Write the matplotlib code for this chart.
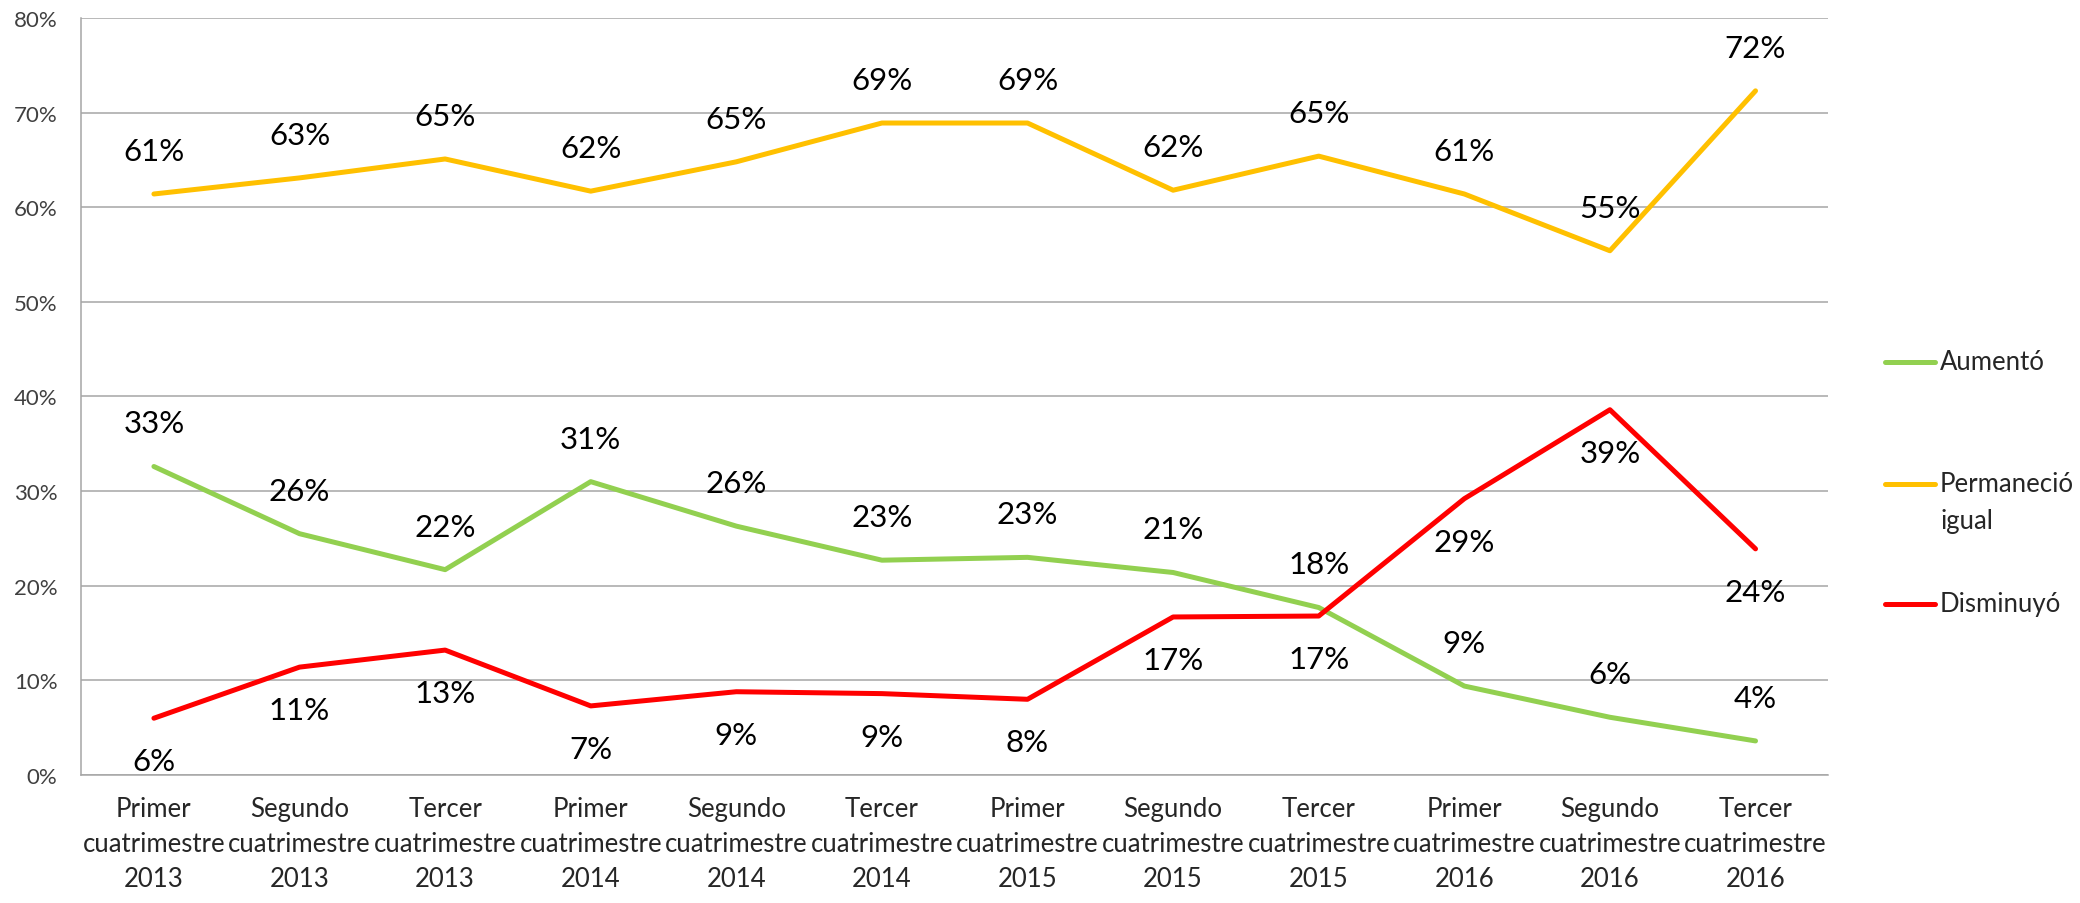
import matplotlib
matplotlib.use("Agg")
import matplotlib.pyplot as plt
from matplotlib.lines import Line2D
from matplotlib.ticker import FuncFormatter

plt.rcParams['font.family'] = ['Lato', 'DejaVu Sans']

categorias = [
    "Primer\ncuatrimestre\n2013", "Segundo\ncuatrimestre\n2013", "Tercer\ncuatrimestre\n2013",
    "Primer\ncuatrimestre\n2014", "Segundo\ncuatrimestre\n2014", "Tercer\ncuatrimestre\n2014",
    "Primer\ncuatrimestre\n2015", "Segundo\ncuatrimestre\n2015", "Tercer\ncuatrimestre\n2015",
    "Primer\ncuatrimestre\n2016", "Segundo\ncuatrimestre\n2016", "Tercer\ncuatrimestre\n2016",
]
aumento = [32.6, 25.5, 21.7, 31.0, 26.3, 22.7, 23.0, 21.4, 17.7, 9.4, 6.1, 3.6]
permanecio = [61.4, 63.1, 65.1, 61.7, 64.8, 68.9, 68.9, 61.8, 65.4, 61.4, 55.4, 72.3]
disminuyo = [6.0, 11.4, 13.2, 7.3, 8.8, 8.6, 8.0, 16.7, 16.8, 29.2, 38.6, 23.9]

series = [
    ("Aumentó", aumento, "#92D050", 31),
    ("Permaneció\nigual", permanecio, "#FFC000", 31),
    ("Disminuyó", disminuyo, "#FF0000", -31),
]

fig = plt.figure(figsize=(20.8, 9.04), dpi=100)
ax = fig.add_axes([0.039, 0.1416, 0.84, 0.8374])

x = list(range(len(categorias)))
for nombre, vals, color, off in series:
    ax.plot(x, vals, color=color, lw=3.6, solid_capstyle='round', solid_joinstyle='round', zorder=3)
    for xi, v in zip(x, vals):
        ax.annotate(f"{v:.0f}%", (xi, v), xytext=(0, off), textcoords='offset points',
                    ha='center', va='center', fontsize=22.5, color='black', zorder=4)

ax.set_xlim(-0.5, len(categorias) - 0.5)
ax.set_ylim(0, 80)
ax.set_yticks(range(0, 81, 10))
ax.yaxis.set_major_formatter(FuncFormatter(lambda v, p: f"{v:.0f}%"))
ax.set_xticks(x)
ax.set_xticklabels(categorias, fontsize=18.5, color='#262626', linespacing=1.5)
ax.tick_params(axis='y', length=0, pad=17, labelsize=16, labelcolor='#404040')
ax.tick_params(axis='x', length=0, pad=15)
ax.grid(axis='y', color='#A6A6A6', lw=1.1)
ax.set_axisbelow(True)
for s in ['top', 'right']:
    ax.spines[s].set_visible(False)
for s in ['left', 'bottom']:
    ax.spines[s].set_color('#A6A6A6')
    ax.spines[s].set_linewidth(1.1)

# leyenda manual
W, H = 2080, 904
ley_y = [363, 485, 605]
for (nombre, vals, color, off), yy in zip(series, ley_y):
    fy = 1 - yy / H
    fig.add_artist(Line2D([1885 / W, 1935 / W], [fy, fy], color=color, lw=3.6,
                          solid_capstyle='round', transform=fig.transFigure))
    lineas = nombre.split("\n")
    for i, t in enumerate(lineas):
        fig.text(1940 / W, 1 - (yy + i * 37) / H, t, fontsize=18.5, color='#262626',
                 ha='left', va='center')

fig.savefig("out.png", dpi=100)
